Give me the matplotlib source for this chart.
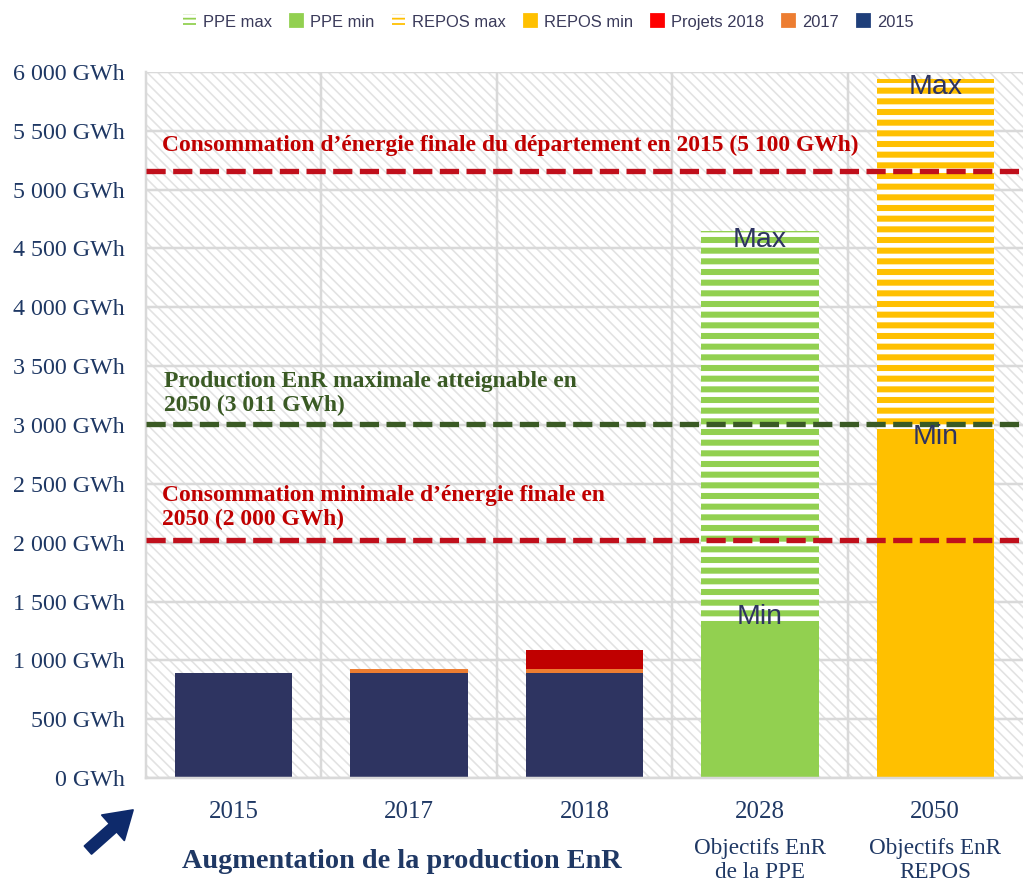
import numpy as np
import matplotlib
matplotlib.use('Agg')
import matplotlib.pyplot as plt
from matplotlib.patches import Rectangle, Patch

categories = ['2015', '2017', '2018', '2028', '2050']
subtitles = ['', '', '', 'Objectifs EnR\nde la PPE', 'Objectifs EnR\nREPOS']
prod_2015 = [895, 895, 895, 0, 0]
prod_2017 = [0, 28, 28, 0, 0]
projets_2018 = [0, 0, 165, 0, 0]
ppe_min = [0, 0, 0, 1320, 0]
ppe_max = [0, 0, 0, 3330, 0]
repos_min = [0, 0, 0, 0, 2920]
repos_max = [0, 0, 0, 0, 3020]
conso_2015 = 5160
enr_max_2050 = 3011
conso_min_2050 = 2020

NAVY = '#2e3461'
ORANGE = '#ed7d31'
RED = '#c00000'
GREEN = '#92d050'
YELLOW = '#ffc000'
TXT = '#1f3864'
SERIF = 'Liberation Serif'

DPI = 128
fig = plt.figure(figsize=(1023 / DPI, 884 / DPI), dpi=DPI)
ax = fig.add_axes([146 / 1023, 1 - 778 / 884, 877 / 1023, 706 / 884])

# fond hachuré
with plt.rc_context({'hatch.linewidth': 0.9}):
    bg = Rectangle((0, 0), 1, 1, transform=ax.transAxes, facecolor='white',
                   edgecolor='#e2e2e2', hatch='\\\\\\\\', lw=0, zorder=0.1)
    if hasattr(bg, 'set_hatch_linewidth'):
        bg.set_hatch_linewidth(0.9)
    ax.add_patch(bg)

x = np.arange(len(categories))
w = 0.67
bottom = np.zeros(len(categories))
for vals, col in [(prod_2015, NAVY), (prod_2017, ORANGE), (projets_2018, RED),
                  (ppe_min, GREEN), (repos_min, YELLOW)]:
    ax.bar(x, vals, w, bottom=bottom, color=col, zorder=2)
    bottom += np.array(vals)

min_tops = bottom.copy()
with plt.rc_context({'hatch.linewidth': 3.4}):
    for vals, col in [(ppe_max, GREEN), (repos_max, YELLOW)]:
        bars = ax.bar(x, vals, w, bottom=bottom, facecolor='white', edgecolor=col,
                      hatch='--', lw=0, zorder=2)
        for b in bars:
            if hasattr(b, 'set_hatch_linewidth'):
                b.set_hatch_linewidth(3.4)
        bottom += np.array(vals)

# étiquettes Max / Min
min_off = [0, 0, 0, 70, 0]
max_off = [0, 0, 0, 75, 70]
for i in [3, 4]:
    ax.text(x[i], bottom[i] - max_off[i], 'Max', ha='center', va='center', fontsize=16,
            color=NAVY, family='Liberation Sans', zorder=4)
    ax.text(x[i], min_tops[i] + min_off[i] - 20, 'Min', ha='center', va='center', fontsize=16,
            color=NAVY, family='Liberation Sans', zorder=4)

# lignes de référence
ls = dict(lw=3, dashes=(3.6, 1.4), zorder=3)
ax.axhline(conso_2015, color='#c0101c', **ls)
ax.axhline(enr_max_2050, color='#3a5a24', **ls)
ax.axhline(conso_min_2050, color='#c0101c', **ls)

tk = dict(transform=ax.get_yaxis_transform(), fontsize=13.2, fontweight='bold',
          family=SERIF, va='center', ha='left', zorder=4)
ax.text(0.018, 5380, 'Consommation d\u2019énergie finale du département en 2015 (5 100 GWh)',
        color='#c00000', **tk)
ax.text(0.02, 3270, 'Production EnR maximale atteignable en\n2050 (3 011 GWh)',
        color='#3a5a24', linespacing=1.2, **tk)
ax.text(0.018, 2300, 'Consommation minimale d\u2019énergie finale en\n2050 (2 000 GWh)',
        color='#c00000', linespacing=1.2, **tk)

ax.set_xlim(-0.5, 4.5)
ax.set_ylim(0, 6000)
ax.set_yticks(np.arange(0, 6001, 500))
ax.set_yticklabels([f'{v:,} GWh'.replace(',', ' ') for v in range(0, 6001, 500)],
                   family=SERIF, fontsize=13.5, color=TXT)
ax.set_xticks(x)
ax.set_xticklabels(categories, family=SERIF, fontsize=14, color=TXT)
ax.set_xticks([0.5, 1.5, 2.5, 3.5], minor=True)
ax.tick_params(axis='y', length=0, pad=12)
ax.tick_params(axis='x', which='both', length=0, pad=13)
ax.set_axisbelow(True)
ax.grid(axis='y', color='#d9d9d9', lw=1.4)
ax.grid(axis='x', which='minor', color='#d9d9d9', lw=1.4)
for s in ['top', 'right']:
    ax.spines[s].set_visible(False)
for s in ['left', 'bottom']:
    ax.spines[s].set_color('#d9d9d9')
    ax.spines[s].set_linewidth(1.4)

for i, sub in enumerate(subtitles):
    if sub:
        ax.text(x[i], -0.117, sub, transform=ax.get_xaxis_transform(), ha='center',
                va='center', family=SERIF, fontsize=13, color=TXT, linespacing=1.2)

fig.text(182 / 1023, 1 - 861 / 884, 'Augmentation de la production EnR', family=SERIF,
         fontsize=15.9, fontweight='bold', color=TXT, ha='left', va='center')
# flèche
ax.annotate('', xy=(133 / 1023, 1 - 810 / 884), xytext=(88 / 1023, 1 - 850 / 884),
            xycoords='figure fraction', textcoords='figure fraction',
            arrowprops=dict(width=6, headwidth=19, headlength=15, color='#0e2a6b', shrink=0))

# légende
handles = [Patch(facecolor='white', edgecolor=GREEN, hatch='----', lw=0, label='PPE max'),
           Patch(color=GREEN, label='PPE min'),
           Patch(facecolor='white', edgecolor=YELLOW, hatch='----', lw=0, label='REPOS max'),
           Patch(color=YELLOW, label='REPOS min'),
           Patch(color='#ff0000', label='Projets 2018'),
           Patch(color=ORANGE, label='2017'),
           Patch(color='#1f3f7a', label='2015')]
for h in handles:
    if hasattr(h, 'set_hatch_linewidth'):
        h.set_hatch_linewidth(2)
fig.legend(handles=handles, loc='center', bbox_to_anchor=(548 / 1023, 1 - 22 / 884), ncol=7,
           frameon=False, prop={'family': 'Liberation Sans', 'size': 9.3},
           labelcolor='#3a3a5a', handlelength=0.8, handleheight=0.8, handletextpad=0.4,
           columnspacing=1.1)

fig.savefig('out.png', dpi=DPI)
